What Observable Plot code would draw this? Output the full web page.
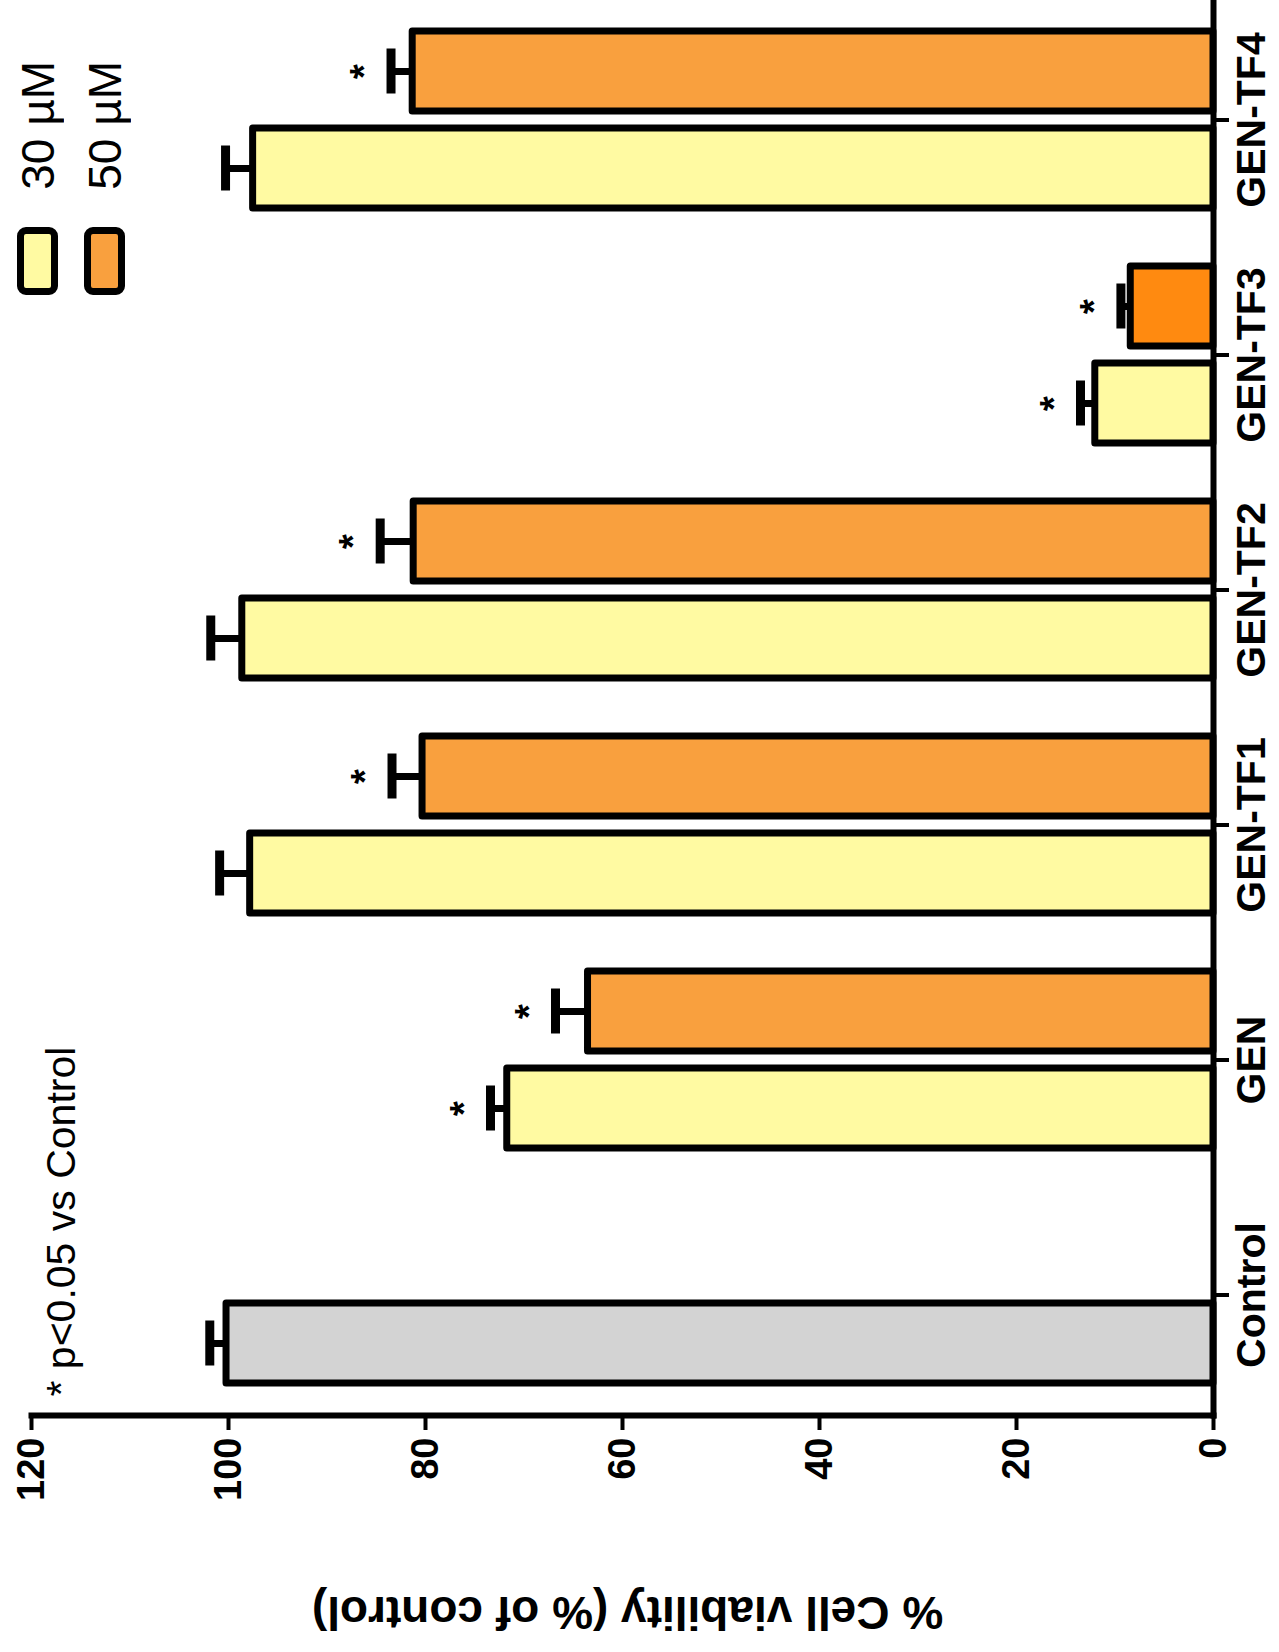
<!DOCTYPE html>
<html>
<head>
<meta charset="utf-8">
<script src="https://cdn.jsdelivr.net/npm/d3@7"></script>
<script src="https://cdn.jsdelivr.net/npm/@observablehq/plot@0.6"></script>
<style>
  html, body { margin: 0; padding: 0; background: #fff; }
  #wrap { position: relative; width: 1279px; height: 1652px; font-family: "Liberation Sans", Arial, sans-serif; color: #000; }
  .sw { position: absolute; box-sizing: border-box; border: 7px solid #000; border-radius: 9px; }
  .lt { position: absolute; writing-mode: vertical-rl; transform: rotate(180deg); font-size: 46px; line-height: 46px; white-space: nowrap; }
</style>
</head>
<body>
<div id="wrap"></div>
<script>
// ---- data ----
const categories = ["Control", "GEN", "GEN-TF1", "GEN-TF2", "GEN-TF3", "GEN-TF4"];
const doses = ["30 µM", "50 µM"];
const mean30 = [100.2, 71.7, 97.8, 98.6, 12.0, 97.5];
const sem30  = [1.7, 1.7, 3.1, 3.2, 1.5, 2.8];
const mean50 = [null, 63.5, 80.3, 81.2, 8.4, 81.3];
const sem50  = [null, 3.3, 3.1, 3.4, 1.0, 2.2];
const sig30  = [false, true, false, false, true, false];
const sig50  = [false, true, true, true, true, true];
const xTicks = [0, 20, 40, 60, 80, 100, 120];
const axisTitle = "% Cell viability (% of control)";
const footnote = "* p<0.05 vs Control";

// ---- build rows ----
const rows30 = categories.map((c, i) => ({cat: c, dose: doses[0], value: mean30[i], err: sem30[i], sig: sig30[i]}));
const rows50 = categories.map((c, i) => ({cat: c, dose: doses[1], value: mean50[i], err: sem50[i], sig: sig50[i]}))
  .filter(d => d.value != null);

const YELLOW = "#FFFAA2", ORANGE = "#F9A03E", DARK_ORANGE = "#FF8A10", GREY = "#D3D3D3";
const fillOf = d => d.cat === "Control" ? GREY : d.dose === doses[0] ? YELLOW : (d.cat === "GEN-TF3" ? DARK_ORANGE : ORANGE);

const BAR_INSET = 97;   // each band holds two bars
const OFF = 48.5;       // offset of bar centre from band centre
const upper = d => d.value + d.err;

const chart = Plot.plot({
  width: 1279,
  height: 1652,
  marginLeft: 31,
  marginRight: 66,
  marginTop: 0,
  marginBottom: 237,
  style: {fontFamily: "'Liberation Sans', Arial, sans-serif", color: "#000", background: "#fff"},
  x: {domain: [0, 120], reverse: true},
  y: {domain: categories.slice().reverse(), paddingInner: 0.245, paddingOuter: 0.1225},
  marks: [
    // bars
    Plot.barX(rows50, {y: "cat", x: "value", insetBottom: BAR_INSET, fill: fillOf, stroke: "#000", strokeWidth: 7, strokeLinejoin: "round"}),
    Plot.barX(rows30, {y: "cat", x: "value", insetTop: BAR_INSET, fill: fillOf, stroke: "#000", strokeWidth: 7, strokeLinejoin: "round"}),
    // error bars
    Plot.ruleY(rows50, {y: "cat", x1: "value", x2: upper, dy: -OFF, stroke: "#000", strokeWidth: 7}),
    Plot.ruleY(rows30, {y: "cat", x1: "value", x2: upper, dy: OFF, stroke: "#000", strokeWidth: 7}),
    Plot.tickX(rows50, {x: upper, y: "cat", insetTop: 17.5, insetBottom: 114.5, stroke: "#000", strokeWidth: 9}),
    Plot.tickX(rows30, {x: upper, y: "cat", insetTop: 114.5, insetBottom: 17.5, stroke: "#000", strokeWidth: 9}),
    // significance stars
    Plot.text(rows50.filter(d => d.sig), {x: upper, y: "cat", text: () => "*", dx: -26, dy: -OFF, rotate: -90, fontSize: 38, fontWeight: "bold"}),
    Plot.text(rows30.filter(d => d.sig), {x: upper, y: "cat", text: () => "*", dx: -26, dy: OFF, rotate: -90, fontSize: 38, fontWeight: "bold"}),
    // axis lines
    Plot.frame({anchor: "bottom", stroke: "#000", strokeWidth: 6}),
    Plot.frame({anchor: "right", stroke: "#000", strokeWidth: 6}),
    // value axis
    Plot.axisX({anchor: "bottom", ticks: xTicks, tickSize: 15, tickPadding: 7, tickRotate: -90,
      textAnchor: "end", lineAnchor: "middle", fontSize: 38, fontWeight: "bold", strokeWidth: 4, label: null}),
    // category axis
    Plot.axisY({anchor: "right", tickSize: 15, tickPadding: 7, tickRotate: -90,
      textAnchor: "middle", lineAnchor: "top", fontSize: 41, fontWeight: "bold", strokeWidth: 4, label: null}),
    // axis title (upside down, as in the figure)
    Plot.text([axisTitle], {frameAnchor: "bottom", text: d => d, rotate: 180, dx: 5, dy: 181, fontSize: 46, fontWeight: "bold"}),
    // footnote
    Plot.text([footnote], {frameAnchor: "bottom-left", text: d => d, rotate: -90, textAnchor: "start", lineAnchor: "top", dx: 14, dy: -19, fontSize: 41})
  ]
});

const wrap = document.getElementById("wrap");
wrap.appendChild(chart);

// legend (top-left, rotated like the figure)
const legendItems = [{label: doses[0], fill: YELLOW, left: 17}, {label: doses[1], fill: ORANGE, left: 84}];
for (const it of legendItems) {
  const sw = document.createElement("div");
  sw.className = "sw";
  sw.style.left = it.left + "px";
  sw.style.top = "227px";
  sw.style.width = "41px";
  sw.style.height = "68px";
  sw.style.background = it.fill;
  wrap.appendChild(sw);
  const t = document.createElement("div");
  t.className = "lt";
  t.textContent = it.label;
  t.style.left = (it.left - 2) + "px";
  t.style.top = "61px";
  wrap.appendChild(t);
}
</script>
</body>
</html>
